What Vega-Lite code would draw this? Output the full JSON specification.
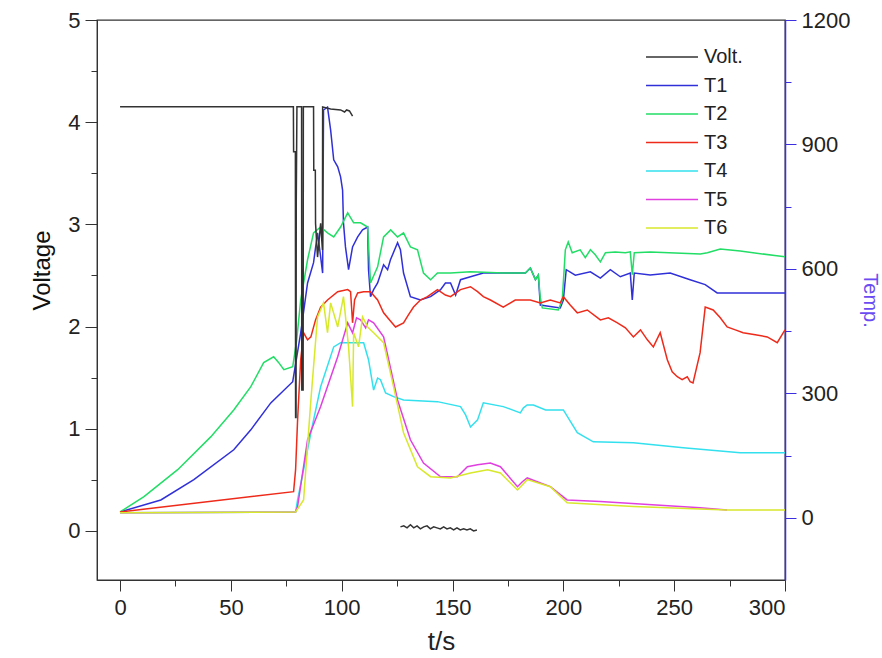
{
"$schema": "https://vega.github.io/schema/vega-lite/v6.json",
"width": 688, "height": 560,
"autosize": {"type": "none"},
"padding": {"left": 97, "top": 20, "right": 97, "bottom": 78},
"background": "white",
"config": {"view": {"stroke": "#333", "strokeWidth": 1.3}, "font": "Liberation Sans", "axis": {"grid": false}},
"datasets": {
"volt": [
{"series":"Volt.","seg":"a","t":0,"V":4.15},{"series":"Volt.","seg":"a","t":78.2,"V":4.15},{"series":"Volt.","seg":"a","t":78.3,"V":3.71},{"series":"Volt.","seg":"a","t":79.1,"V":3.71},{"series":"Volt.","seg":"a","t":79.2,"V":1.11},{"series":"Volt.","seg":"a","t":79.4,"V":1.11},{"series":"Volt.","seg":"a","t":79.5,"V":3.22},{"series":"Volt.","seg":"a","t":79.8,"V":4.15},{"series":"Volt.","seg":"a","t":81.9,"V":4.15},{"series":"Volt.","seg":"a","t":82.0,"V":1.38},{"series":"Volt.","seg":"a","t":82.6,"V":1.38},{"series":"Volt.","seg":"a","t":82.7,"V":4.15},{"series":"Volt.","seg":"a","t":87.3,"V":4.15},{"series":"Volt.","seg":"a","t":87.4,"V":3.53},{"series":"Volt.","seg":"a","t":88.1,"V":3.53},{"series":"Volt.","seg":"a","t":88.2,"V":3.01},{"series":"Volt.","seg":"a","t":89.1,"V":2.68},{"series":"Volt.","seg":"a","t":90.5,"V":3.01},{"series":"Volt.","seg":"a","t":91.3,"V":2.75},{"series":"Volt.","seg":"a","t":91.4,"V":4.15},{"series":"Volt.","seg":"a","t":95,"V":4.13},{"series":"Volt.","seg":"a","t":99.5,"V":4.12},{"series":"Volt.","seg":"a","t":101.3,"V":4.1},{"series":"Volt.","seg":"a","t":102.2,"V":4.12},{"series":"Volt.","seg":"a","t":103.5,"V":4.11},{"series":"Volt.","seg":"a","t":104.9,"V":4.06},
{"series":"Volt.","seg":"b","t":126.5,"V":0.04},{"series":"Volt.","seg":"b","t":128,"V":0.05},{"series":"Volt.","seg":"b","t":129.5,"V":0.03},{"series":"Volt.","seg":"b","t":131,"V":0.06},{"series":"Volt.","seg":"b","t":132.5,"V":0.03},{"series":"Volt.","seg":"b","t":134,"V":0.05},{"series":"Volt.","seg":"b","t":135.5,"V":0.02},{"series":"Volt.","seg":"b","t":137,"V":0.04},{"series":"Volt.","seg":"b","t":138.5,"V":0.05},{"series":"Volt.","seg":"b","t":140,"V":0.02},{"series":"Volt.","seg":"b","t":141.5,"V":0.04},{"series":"Volt.","seg":"b","t":143,"V":0.03},{"series":"Volt.","seg":"b","t":144.5,"V":0.02},{"series":"Volt.","seg":"b","t":146,"V":0.04},{"series":"Volt.","seg":"b","t":147.5,"V":0.02},{"series":"Volt.","seg":"b","t":149,"V":0.03},{"series":"Volt.","seg":"b","t":150.5,"V":0.01},{"series":"Volt.","seg":"b","t":152,"V":0.03},{"series":"Volt.","seg":"b","t":153.5,"V":0.01},{"series":"Volt.","seg":"b","t":155,"V":0.02},{"series":"Volt.","seg":"b","t":156.5,"V":0.01},{"series":"Volt.","seg":"b","t":158,"V":0.02},{"series":"Volt.","seg":"b","t":159.5,"V":0.0},{"series":"Volt.","seg":"b","t":161,"V":0.01}
],
"temp": [
{"series":"T1","t":0,"T":14},{"series":"T1","t":18.4,"T":43},{"series":"T1","t":33.3,"T":92},{"series":"T1","t":51.3,"T":164},{"series":"T1","t":59,"T":212},{"series":"T1","t":68,"T":277},{"series":"T1","t":77.9,"T":328},{"series":"T1","t":81.5,"T":446},{"series":"T1","t":84.6,"T":566},{"series":"T1","t":87.3,"T":615},{"series":"T1","t":89.1,"T":687},{"series":"T1","t":90.5,"T":629},{"series":"T1","t":91.4,"T":590},{"series":"T1","t":91.8,"T":983},{"series":"T1","t":93.6,"T":990},{"series":"T1","t":95.0,"T":935},{"series":"T1","t":96.4,"T":863},{"series":"T1","t":98.2,"T":846},{"series":"T1","t":99.5,"T":822},{"series":"T1","t":100.4,"T":790},{"series":"T1","t":100.8,"T":711},{"series":"T1","t":101.7,"T":653},{"series":"T1","t":103.1,"T":598},{"series":"T1","t":104.9,"T":653},{"series":"T1","t":107.2,"T":677},{"series":"T1","t":109.4,"T":694},{"series":"T1","t":111.7,"T":701},{"series":"T1","t":112.1,"T":598},{"series":"T1","t":113.0,"T":533},{"series":"T1","t":114.4,"T":550},{"series":"T1","t":116.2,"T":566},{"series":"T1","t":118.9,"T":610},{"series":"T1","t":120.7,"T":598},{"series":"T1","t":122.0,"T":622},{"series":"T1","t":125.2,"T":663},{"series":"T1","t":126.5,"T":646},{"series":"T1","t":127.9,"T":590},{"series":"T1","t":131.0,"T":533},{"series":"T1","t":135.5,"T":525},{"series":"T1","t":140.1,"T":533},{"series":"T1","t":144.6,"T":550},{"series":"T1","t":146.8,"T":566},{"series":"T1","t":149.1,"T":566},{"series":"T1","t":151.4,"T":537},{"series":"T1","t":153.6,"T":574},{"series":"T1","t":158.1,"T":581},{"series":"T1","t":163.9,"T":590},{"series":"T1","t":182.9,"T":590},{"series":"T1","t":185.1,"T":602},{"series":"T1","t":187.4,"T":574},{"series":"T1","t":188.7,"T":585},{"series":"T1","t":189.6,"T":513},{"series":"T1","t":198.6,"T":506},{"series":"T1","t":200.0,"T":525},{"series":"T1","t":201.3,"T":598},{"series":"T1","t":205.4,"T":585},{"series":"T1","t":212.2,"T":593},{"series":"T1","t":216.7,"T":578},{"series":"T1","t":221.2,"T":598},{"series":"T1","t":225.7,"T":581},{"series":"T1","t":230.2,"T":590},{"series":"T1","t":231.1,"T":525},{"series":"T1","t":232.0,"T":590},{"series":"T1","t":239.2,"T":585},{"series":"T1","t":248.2,"T":590},{"series":"T1","t":257.2,"T":574},{"series":"T1","t":264.0,"T":562},{"series":"T1","t":269.4,"T":542},{"series":"T1","t":300,"T":542},
{"series":"T2","t":0,"T":14},{"series":"T2","t":10.8,"T":51},{"series":"T2","t":26,"T":116},{"series":"T2","t":40.9,"T":195},{"series":"T2","t":51.3,"T":260},{"series":"T2","t":59,"T":316},{"series":"T2","t":64.8,"T":374},{"series":"T2","t":69.3,"T":388},{"series":"T2","t":71.6,"T":374},{"series":"T2","t":73.9,"T":357},{"series":"T2","t":77.9,"T":364},{"series":"T2","t":79.7,"T":429},{"series":"T2","t":81.5,"T":525},{"series":"T2","t":84.6,"T":622},{"series":"T2","t":87.3,"T":687},{"series":"T2","t":90.5,"T":701},{"series":"T2","t":93.6,"T":687},{"series":"T2","t":96.4,"T":677},{"series":"T2","t":99.5,"T":701},{"series":"T2","t":102.7,"T":735},{"series":"T2","t":105.4,"T":711},{"series":"T2","t":108.5,"T":711},{"series":"T2","t":111.7,"T":701},{"series":"T2","t":113.0,"T":566},{"series":"T2","t":116.2,"T":605},{"series":"T2","t":118.9,"T":677},{"series":"T2","t":122.1,"T":694},{"series":"T2","t":125.2,"T":677},{"series":"T2","t":127.9,"T":687},{"series":"T2","t":131.0,"T":653},{"series":"T2","t":134.2,"T":646},{"series":"T2","t":136.9,"T":590},{"series":"T2","t":140.1,"T":574},{"series":"T2","t":143.2,"T":590},{"series":"T2","t":149.1,"T":590},{"series":"T2","t":158.1,"T":593},{"series":"T2","t":172.9,"T":590},{"series":"T2","t":182.9,"T":590},{"series":"T2","t":185.1,"T":602},{"series":"T2","t":187.4,"T":574},{"series":"T2","t":188.7,"T":585},{"series":"T2","t":189.6,"T":530},{"series":"T2","t":190.5,"T":506},{"series":"T2","t":197.7,"T":501},{"series":"T2","t":199.5,"T":525},{"series":"T2","t":200.9,"T":646},{"series":"T2","t":202.2,"T":665},{"series":"T2","t":204.0,"T":639},{"series":"T2","t":207.6,"T":646},{"series":"T2","t":209.9,"T":627},{"series":"T2","t":212.2,"T":646},{"series":"T2","t":214.4,"T":634},{"series":"T2","t":216.7,"T":617},{"series":"T2","t":219.0,"T":639},{"series":"T2","t":223.4,"T":641},{"series":"T2","t":228.0,"T":639},{"series":"T2","t":230.2,"T":641},{"series":"T2","t":231.1,"T":586},{"series":"T2","t":232.0,"T":639},{"series":"T2","t":239.2,"T":641},{"series":"T2","t":261.8,"T":636},{"series":"T2","t":265.0,"T":639},{"series":"T2","t":270.8,"T":648},{"series":"T2","t":279.8,"T":643},{"series":"T2","t":300,"T":629},
{"series":"T3","t":0,"T":14},{"series":"T3","t":78.3,"T":63},{"series":"T3","t":79.2,"T":116},{"series":"T3","t":80.1,"T":236},{"series":"T3","t":81.5,"T":381},{"series":"T3","t":82.8,"T":446},{"series":"T3","t":84.6,"T":429},{"series":"T3","t":86.1,"T":436},{"series":"T3","t":88.2,"T":477},{"series":"T3","t":90.5,"T":508},{"series":"T3","t":93.6,"T":525},{"series":"T3","t":98.2,"T":545},{"series":"T3","t":102.7,"T":550},{"series":"T3","t":104.0,"T":545},{"series":"T3","t":104.9,"T":470},{"series":"T3","t":105.8,"T":525},{"series":"T3","t":107.2,"T":542},{"series":"T3","t":109.9,"T":545},{"series":"T3","t":113,"T":545},{"series":"T3","t":116.2,"T":525},{"series":"T3","t":118.9,"T":494},{"series":"T3","t":121.6,"T":477},{"series":"T3","t":124.3,"T":460},{"series":"T3","t":127.9,"T":470},{"series":"T3","t":130.1,"T":489},{"series":"T3","t":132.4,"T":508},{"series":"T3","t":135.5,"T":525},{"series":"T3","t":138.7,"T":533},{"series":"T3","t":143.2,"T":550},{"series":"T3","t":146.8,"T":537},{"series":"T3","t":149.1,"T":533},{"series":"T3","t":153.6,"T":550},{"series":"T3","t":158.1,"T":557},{"series":"T3","t":161.3,"T":545},{"series":"T3","t":163.9,"T":533},{"series":"T3","t":167.1,"T":525},{"series":"T3","t":172.9,"T":508},{"series":"T3","t":178.3,"T":525},{"series":"T3","t":185.1,"T":525},{"series":"T3","t":189.6,"T":518},{"series":"T3","t":194.1,"T":525},{"series":"T3","t":198.6,"T":518},{"series":"T3","t":200.0,"T":533},{"series":"T3","t":203.1,"T":513},{"series":"T3","t":206.3,"T":494},{"series":"T3","t":210.8,"T":501},{"series":"T3","t":216.7,"T":477},{"series":"T3","t":220.3,"T":482},{"series":"T3","t":224.4,"T":470},{"series":"T3","t":228.0,"T":458},{"series":"T3","t":231.6,"T":436},{"series":"T3","t":234.8,"T":453},{"series":"T3","t":237.9,"T":429},{"series":"T3","t":240.6,"T":412},{"series":"T3","t":243.7,"T":446},{"series":"T3","t":246.9,"T":381},{"series":"T3","t":249.1,"T":352},{"series":"T3","t":251.4,"T":340},{"series":"T3","t":253.6,"T":333},{"series":"T3","t":255.9,"T":340},{"series":"T3","t":257.2,"T":328},{"series":"T3","t":258.5,"T":325},{"series":"T3","t":261.7,"T":398},{"series":"T3","t":264.0,"T":508},{"series":"T3","t":267.6,"T":501},{"series":"T3","t":270.8,"T":482},{"series":"T3","t":273.9,"T":460},{"series":"T3","t":277.6,"T":453},{"series":"T3","t":281.1,"T":446},{"series":"T3","t":286.6,"T":441},{"series":"T3","t":292.0,"T":436},{"series":"T3","t":296.5,"T":422},{"series":"T3","t":300,"T":453},
{"series":"T4","t":0,"T":12},{"series":"T4","t":79.2,"T":14},{"series":"T4","t":80.1,"T":43},{"series":"T4","t":86.1,"T":205},{"series":"T4","t":90.5,"T":316},{"series":"T4","t":96.4,"T":412},{"series":"T4","t":99.5,"T":422},{"series":"T4","t":109.9,"T":422},{"series":"T4","t":112.1,"T":381},{"series":"T4","t":114.4,"T":308},{"series":"T4","t":116.2,"T":337},{"series":"T4","t":117.5,"T":333},{"series":"T4","t":119.8,"T":301},{"series":"T4","t":123.4,"T":292},{"series":"T4","t":127.9,"T":284},{"series":"T4","t":143.2,"T":280},{"series":"T4","t":153.6,"T":268},{"series":"T4","t":155.9,"T":248},{"series":"T4","t":158.1,"T":219},{"series":"T4","t":161.3,"T":236},{"series":"T4","t":163.9,"T":277},{"series":"T4","t":172.9,"T":268},{"series":"T4","t":180.6,"T":253},{"series":"T4","t":182,"T":265},{"series":"T4","t":183.7,"T":272},{"series":"T4","t":186.5,"T":272},{"series":"T4","t":192,"T":260},{"series":"T4","t":200.0,"T":260},{"series":"T4","t":206.3,"T":205},{"series":"T4","t":213.5,"T":183},{"series":"T4","t":231.6,"T":181},{"series":"T4","t":254.1,"T":169},{"series":"T4","t":279.8,"T":157},{"series":"T4","t":300,"T":157},
{"series":"T5","t":0,"T":12},{"series":"T5","t":79.2,"T":14},{"series":"T5","t":80.1,"T":27},{"series":"T5","t":84.6,"T":188},{"series":"T5","t":90.5,"T":268},{"series":"T5","t":98.2,"T":388},{"series":"T5","t":102.7,"T":470},{"series":"T5","t":104.9,"T":446},{"series":"T5","t":106.7,"T":482},{"series":"T5","t":108.5,"T":477},{"series":"T5","t":110.8,"T":458},{"series":"T5","t":112.1,"T":477},{"series":"T5","t":114.4,"T":470},{"series":"T5","t":118.9,"T":436},{"series":"T5","t":125.2,"T":284},{"series":"T5","t":131.0,"T":188},{"series":"T5","t":136.9,"T":132},{"series":"T5","t":144.6,"T":99},{"series":"T5","t":152.2,"T":99},{"series":"T5","t":156.7,"T":123},{"series":"T5","t":161.3,"T":128},{"series":"T5","t":167.1,"T":132},{"series":"T5","t":171.6,"T":123},{"series":"T5","t":179.3,"T":75},{"series":"T5","t":181.5,"T":87},{"series":"T5","t":183.7,"T":96},{"series":"T5","t":194.1,"T":75},{"series":"T5","t":201.7,"T":43},{"series":"T5","t":216.7,"T":39},{"series":"T5","t":261.7,"T":24},{"series":"T5","t":273.9,"T":19},
{"series":"T6","t":0,"T":12},{"series":"T6","t":79.2,"T":14},{"series":"T6","t":82.8,"T":43},{"series":"T6","t":86.1,"T":284},{"series":"T6","t":89.1,"T":484},{"series":"T6","t":91.8,"T":518},{"series":"T6","t":93.6,"T":446},{"series":"T6","t":95.0,"T":518},{"series":"T6","t":98.2,"T":460},{"series":"T6","t":100.8,"T":533},{"series":"T6","t":103.1,"T":412},{"series":"T6","t":104.9,"T":268},{"series":"T6","t":105.4,"T":446},{"series":"T6","t":107.6,"T":412},{"series":"T6","t":109.4,"T":484},{"series":"T6","t":111.7,"T":460},{"series":"T6","t":114.4,"T":446},{"series":"T6","t":118.9,"T":422},{"series":"T6","t":123.4,"T":316},{"series":"T6","t":127.9,"T":205},{"series":"T6","t":134.2,"T":123},{"series":"T6","t":140.1,"T":99},{"series":"T6","t":149.1,"T":96},{"series":"T6","t":158.1,"T":108},{"series":"T6","t":165.8,"T":116},{"series":"T6","t":171.6,"T":108},{"series":"T6","t":179.3,"T":67},{"series":"T6","t":183.7,"T":92},{"series":"T6","t":194.1,"T":75},{"series":"T6","t":201.7,"T":36},{"series":"T6","t":231.6,"T":27},{"series":"T6","t":273.9,"T":19},{"series":"T6","t":300,"T":19}
]
},
"encoding": {
"x": {"field": "t", "type": "quantitative", "scale": {"domain": [-10.4, 300], "nice": false, "zero": false},
 "axis": {"title": "t/s", "values": [0,25,50,75,100,125,150,175,200,225,250,275,300],
  "labelExpr": "datum.value % 50 === 0 ? format(datum.value, 'd') : ''",
  "tickSize": {"condition": {"test": "datum.value % 50 === 0", "value": 11}, "value": 6},
  "domainColor": "#333", "tickColor": "#333", "labelColor": "#222", "labelFontSize": 22, "labelPadding": 6,
  "titleFontSize": 26, "titleFontWeight": "normal", "titleColor": "#222", "titlePadding": 10}}
},
"layer": [
{"data": {"name": "temp"}, "mark": {"type": "line", "strokeWidth": 1.5},
 "encoding": {
  "y": {"field": "T", "type": "quantitative", "scale": {"domain": [-150, 1200], "nice": false, "zero": false},
   "axis": {"orient": "right", "title": "Temp.", "titleAngle": 90, "titleColor": "#6a4cf2", "titleFontSize": 20, "titleFontWeight": "normal", "titlePadding": 10,
    "values": [0,150,300,450,600,750,900,1050,1200],
    "labelExpr": "datum.value % 300 === 0 ? format(datum.value, 'd') : ''",
    "tickSize": {"condition": {"test": "datum.value % 300 === 0", "value": 11}, "value": 6},
    "domainColor": "#3b2fe0", "tickColor": "#3b2fe0", "domainWidth": 1.5, "labelColor": "#222", "labelFontSize": 22, "labelPadding": 5}},
  "color": {"field": "series", "type": "nominal",
   "scale": {"domain": ["Volt.","T1","T2","T3","T4","T5","T6"], "range": ["#333333","#3030d8","#22dd66","#ee2a1a","#33e0ee","#e040e0","#d8e82a"]},
   "legend": {"orient": "none", "legendX": 548, "legendY": 25, "title": null, "symbolType": "stroke", "symbolSize": 2700, "symbolStrokeWidth": 1.6, "clipHeight": 24, "rowPadding": 4.5, "labelFontSize": 20, "labelOffset": 5, "labelColor": "#222", "padding": 0}}
 }},
{"data": {"name": "volt"}, "mark": {"type": "line", "strokeWidth": 1.5},
 "encoding": {
  "y": {"field": "V", "type": "quantitative", "scale": {"domain": [-0.48, 5], "nice": false, "zero": false},
   "axis": {"orient": "left", "title": "Voltage", "titleFontSize": 24, "titleFontWeight": "normal", "titleColor": "#111", "titleY": 250, "titlePadding": 13,
    "values": [0,0.5,1,1.5,2,2.5,3,3.5,4,4.5,5],
    "labelExpr": "datum.value % 1 === 0 ? format(datum.value, 'd') : ''",
    "tickSize": {"condition": {"test": "datum.value % 1 === 0", "value": 12}, "value": 6},
    "domainColor": "#333", "tickColor": "#333", "labelColor": "#222", "labelFontSize": 22, "labelPadding": 5}},
  "color": {"field": "series", "type": "nominal",
   "scale": {"domain": ["Volt.","T1","T2","T3","T4","T5","T6"], "range": ["#333333","#3030d8","#22dd66","#ee2a1a","#33e0ee","#e040e0","#d8e82a"]}},
  "detail": {"field": "seg"}
 }}
],
"resolve": {"scale": {"y": "independent"}}
}
